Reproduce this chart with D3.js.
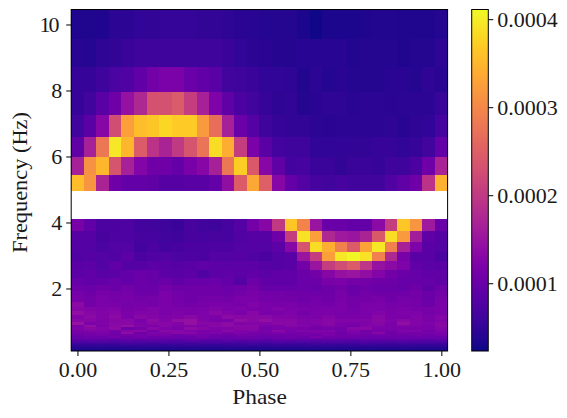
<!DOCTYPE html>
<html>
<head>
<meta charset="utf-8">
<script src="https://cdn.jsdelivr.net/npm/d3@7"></script>
<style>
  html, body { margin: 0; padding: 0; background: #fff; }
  svg { display: block; }
  text { font-family: "Liberation Serif", serif; fill: #1a1a1a; }
</style>
</head>
<body>
<svg id="chart" width="567" height="418"></svg>
<script>
// Bin edges along the phase axis
const phaseEdges = [-0.017,0.017,0.052,0.086,0.121,0.155,0.190,0.224,0.259,0.293,0.328,0.362,0.397,0.431,0.466,0.5,
  0.534,0.569,0.603,0.638,0.672,0.707,0.741,0.776,0.810,0.845,0.879,0.914,0.948,0.983,1.017];

// Bin edges along the frequency axis (Hz), top to bottom; the 4.10-4.96 band has no data
const freqEdges = [10.45,9.56,8.71,7.94,7.25,6.60,5.99,5.44,4.96,4.10,3.74,3.42,3.10,2.82,2.57,2.33,2.12,1.93,1.76,1.60,
  1.45,1.32,1.20,1.09,0.99,0.90,0.82,0.75,0.68,0.62,0.56,0.51,0.47,0.42,0.39,0.35,0.32,0.29,0.26,0.22,0.18,0.14,0.106];

// Power per cell in units of 1e-6, one row per frequency bin
const upperPower = [
  [35,35,34,44,44,48,50,51,51,51,50,50,46,42,40,38,38,37,33,26,31,31,31,35,36,36,34,35,35,37],
  [40,37,45,50,56,58,58,60,60,58,60,60,55,48,44,42,38,39,40,40,40,40,36,37,38,37,34,37,37,45],
  [52,52,60,70,76,92,108,116,118,100,92,84,62,58,56,48,48,46,36,44,37,42,38,37,37,42,42,38,46,42],
  [52,62,85,105,145,175,232,230,244,205,165,120,90,72,62,52,45,50,38,42,46,46,42,44,44,42,44,44,44,54],
  [62,85,130,225,325,355,365,380,368,368,320,270,165,100,80,60,52,50,50,44,42,44,44,44,44,46,40,46,48,66],
  [90,165,280,395,350,245,190,170,200,235,275,385,340,205,118,85,65,60,58,48,48,48,50,50,52,52,48,52,62,95],
  [165,310,350,235,165,125,105,105,95,115,130,165,280,372,240,130,90,64,66,56,56,50,55,55,52,60,60,72,105,170],
  [355,315,170,105,95,95,90,82,82,85,85,95,140,245,335,250,130,95,78,66,62,66,62,62,62,75,90,105,190,345]
];
const lowerPower = [
  [115,92,72,72,74,64,62,60,56,68,62,60,66,80,110,128,200,365,295,150,100,100,95,95,135,205,365,315,155,100],
  [82,80,68,74,74,68,66,62,58,68,66,68,66,75,82,82,105,205,390,325,175,155,150,170,240,385,320,160,90,82],
  [80,78,70,78,78,65,72,64,68,72,72,74,74,78,80,78,88,130,235,385,340,290,245,330,395,290,165,120,85,80],
  [75,82,78,76,88,72,76,78,70,74,72,80,78,82,76,72,80,85,150,205,325,395,408,390,290,175,115,84,84,72],
  [84,86,78,92,80,82,88,84,82,84,90,88,86,88,86,82,80,84,108,150,205,225,245,195,145,135,120,92,88,84],
  [88,92,84,86,94,100,96,88,84,86,76,88,90,88,92,88,92,92,100,108,130,145,150,140,125,108,102,96,92,90],
  [96,92,94,100,94,102,96,102,92,98,98,100,94,80,104,92,90,92,100,102,114,118,110,110,106,104,98,96,96,90],
  [106,100,106,102,108,100,102,110,104,104,106,106,100,106,110,96,98,96,100,98,104,110,100,106,100,100,96,106,90,104],
  [112,106,114,110,112,106,104,118,108,106,106,106,104,108,114,110,108,106,106,104,106,114,102,110,106,106,106,110,102,110],
  [114,108,116,112,114,108,112,116,110,106,110,112,108,116,116,112,110,108,106,110,106,114,108,110,114,106,112,110,100,114],
  [134,110,116,116,112,114,112,118,112,110,114,118,116,114,122,116,114,118,110,112,110,116,110,116,118,112,114,112,104,116],
  [128,124,120,122,114,118,122,116,118,116,118,122,116,120,116,118,122,118,116,114,116,116,112,118,118,114,118,114,114,118],
  [140,130,124,128,118,122,124,116,120,118,120,132,122,118,128,114,118,120,110,118,118,114,114,118,122,116,120,120,112,116],
  [122,134,124,134,116,132,126,120,122,132,120,116,134,132,132,132,124,124,118,118,126,114,118,118,128,118,118,122,118,126],
  [132,130,120,130,132,118,136,124,140,144,124,114,116,140,132,140,130,132,124,124,130,124,124,124,132,120,132,124,118,124],
  [146,116,124,132,132,120,128,130,124,144,130,130,136,124,126,122,132,132,120,122,132,116,118,120,128,118,140,124,120,130],
  [116,140,116,134,144,124,118,130,120,124,120,132,136,132,132,116,116,130,126,116,124,118,108,124,122,116,124,120,116,132],
  [120,132,126,136,106,114,132,120,116,136,130,120,124,128,130,112,118,116,114,110,112,108,128,132,116,116,116,114,116,126],
  [114,124,120,112,128,132,112,132,130,120,114,116,132,120,122,114,132,114,124,120,124,112,120,108,114,108,120,124,108,120],
  [112,112,116,108,136,106,120,120,128,130,116,120,112,120,112,108,116,112,112,116,118,106,116,112,128,106,112,110,114,116],
  [104,108,112,106,110,108,114,114,106,112,112,106,106,110,108,104,106,106,110,106,116,106,108,106,108,106,106,108,106,112],
  [96,104,100,112,102,110,102,104,100,102,110,100,98,104,102,100,102,106,100,114,106,106,106,102,102,102,102,102,102,100],
  [98,102,106,98,104,102,102,102,100,102,104,102,100,102,104,98,102,104,100,104,102,100,102,102,100,104,102,100,102,102],
  [84,86,88,82,86,84,88,84,82,86,84,82,86,84,86,82,86,84,88,84,86,84,82,86,84,82,86,84,82,86],
  [76,78,80,76,78,76,80,78,76,80,76,78,80,76,78,76,80,76,78,80,76,78,76,80,76,78,76,80,76,78],
  [70,72,68,70,72,70,68,72,70,68,70,72,70,68,72,68,70,72,70,68,72,70,68,70,72,68,70,72,70,68],
  [62,64,62,60,64,62,60,62,64,60,62,64,60,62,62,60,64,62,60,62,64,60,62,64,62,60,62,64,62,60],
  [56,56,54,56,58,54,56,56,54,58,56,54,56,56,58,54,56,56,54,58,56,54,56,58,54,56,56,54,56,56],
  [50,50,48,50,50,48,50,48,50,50,48,50,48,50,50,48,50,50,48,50,48,50,50,48,50,50,48,50,48,50],
  [45,44,45,44,46,44,45,44,45,46,44,45,44,45,44,45,46,44,45,44,45,44,46,44,45,44,45,44,45,44],
  [39,38,39,38,39,40,38,39,38,39,38,39,40,38,39,38,39,38,39,40,38,39,38,39,38,39,40,38,39,38],
  [34,35,34,35,34,34,35,34,35,34,34,35,34,35,34,34,35,34,35,34,34,35,34,35,34,34,35,34,35,34],
  [30,30,31,30,30,30,31,30,30,31,30,30,30,31,30,30,31,30,30,30,31,30,30,31,30,30,30,31,30,30]
];

const phaseTicks = [0, 0.25, 0.5, 0.75, 1];
const phaseTickLabels = ["0.00", "0.25", "0.50", "0.75", "1.00"];
const freqTicks = [2, 4, 6, 8, 10];
const colorTicks = [1, 2, 3, 4];
const colorTickLabels = ["0.0001", "0.0002", "0.0003", "0.0004"];
const colorMin = 23, colorMax = 411;

const fontSize = 22;
const svg = d3.select("#chart");

const x = d3.scaleLinear().domain([-0.0172, 1.0172]).range([71.2, 447.6]);
const y = d3.scaleLinear().domain([0.106, 10.4545]).range([351, 9.5]);
const color = d3.scaleSequential(d3.interpolatePlasma).domain([colorMin, colorMax]);

// Heat map cells; the two empty frequency bins stay white
const rows = [...upperPower, null, ...lowerPower];
const cells = rows.flatMap((row, r) =>
  row ? row.map((v, c) => ({ r, c, v })) : []);

svg.append("g").attr("shape-rendering", "crispEdges")
  .selectAll("rect").data(cells).join("rect")
  .attr("x", d => x(phaseEdges[d.c]))
  .attr("width", d => x(phaseEdges[d.c + 1]) - x(phaseEdges[d.c]) + 0.4)
  .attr("y", d => y(freqEdges[d.r]))
  .attr("height", d => y(freqEdges[d.r + 1]) - y(freqEdges[d.r]) + 0.4)
  .attr("fill", d => color(d.v));

// Axes of the heat map
const xAxis = d3.axisBottom(x).tickValues(phaseTicks)
  .tickFormat((d, i) => phaseTickLabels[i]).tickSize(5).tickPadding(5);
const yAxis = d3.axisLeft(y).tickValues(freqTicks)
  .tickFormat(d3.format("d")).tickSize(5).tickPadding(4);

const gx = svg.append("g").attr("transform", `translate(0,${y.range()[0]})`).call(xAxis);
const gy = svg.append("g").attr("transform", `translate(${x.range()[0]},0)`).call(yAxis);
[gx, gy].forEach(g => {
  g.select(".domain").remove();
  g.selectAll("line").attr("stroke", "#000").attr("stroke-width", 1);
  g.selectAll("text").attr("font-size", fontSize).attr("font-family", null).attr("fill", null);
});
// The two-digit label sits a little further from its tick
gy.selectAll(".tick text").filter(d => d >= 10).attr("dx", "-0.12em").attr("textLength", 20);

svg.append("rect")
  .attr("x", x.range()[0]).attr("y", y.range()[1])
  .attr("width", x.range()[1] - x.range()[0]).attr("height", y.range()[0] - y.range()[1])
  .attr("fill", "none").attr("stroke", "#000").attr("stroke-width", 1);

svg.append("text")
  .attr("x", 259.5).attr("y", 404)
  .attr("text-anchor", "middle").attr("font-size", fontSize)
  .attr("textLength", 54.7).attr("lengthAdjust", "spacingAndGlyphs")
  .text("Phase");

svg.append("text")
  .attr("transform", "translate(27,182.5) rotate(-90)")
  .attr("text-anchor", "middle").attr("font-size", fontSize)
  .attr("textLength", 141).attr("lengthAdjust", "spacingAndGlyphs")
  .text("Frequency (Hz)");

// Colour bar
const barX = 471.7, barW = 16.6;
const barY = d3.scaleLinear().domain([colorMin, colorMax]).range([351, 9.5]);
const barSteps = d3.range(colorMin, colorMax, (colorMax - colorMin) / 341);

svg.append("g").attr("shape-rendering", "crispEdges")
  .selectAll("rect").data(barSteps).join("rect")
  .attr("x", barX).attr("width", barW)
  .attr("y", d => barY(d) - 1.5).attr("height", 1.6)
  .attr("fill", d => color(d));

const barAxis = d3.axisRight(barY).tickValues(colorTicks.map(t => t * 100))
  .tickFormat((d, i) => colorTickLabels[i]).tickSize(5).tickPadding(4);
const gc = svg.append("g").attr("transform", `translate(${barX + barW},0)`).call(barAxis);
gc.select(".domain").remove();
gc.selectAll("line").attr("stroke", "#000").attr("stroke-width", 1);
gc.selectAll("text").attr("font-size", fontSize).attr("font-family", null).attr("fill", null);

svg.append("rect")
  .attr("x", barX).attr("y", 9.5).attr("width", barW).attr("height", 341.5)
  .attr("fill", "none").attr("stroke", "#000").attr("stroke-width", 1);
</script>
</body>
</html>
